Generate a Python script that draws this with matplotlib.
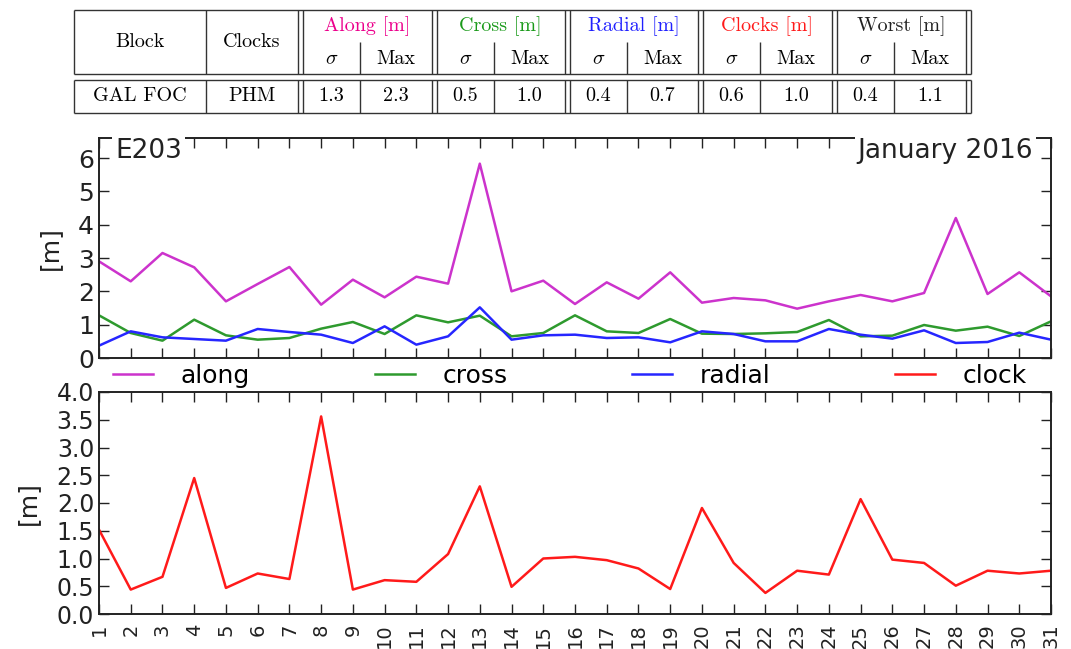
import matplotlib
matplotlib.use("Agg")
import matplotlib.pyplot as plt
import numpy as np

# ---- data ----------------------------------------------------------------
days = list(range(1, 32))

along = [2.90, 2.30, 3.15, 2.72, 1.70, 2.22, 2.73, 1.60, 2.35, 1.82,
         2.44, 2.23, 5.83, 2.00, 2.32, 1.62, 2.27, 1.78, 2.57, 1.66,
         1.80, 1.73, 1.48, 1.70, 1.89, 1.70, 1.95, 4.20, 1.92, 2.57, 1.85]
cross = [1.28, 0.75, 0.52, 1.15, 0.68, 0.55, 0.60, 0.88, 1.08, 0.72,
         1.28, 1.07, 1.27, 0.65, 0.75, 1.28, 0.80, 0.75, 1.17, 0.73,
         0.72, 0.74, 0.78, 1.14, 0.65, 0.67, 0.99, 0.82, 0.94, 0.66, 1.10]
radial = [0.37, 0.80, 0.62, 0.57, 0.52, 0.87, 0.78, 0.70, 0.45, 0.95,
          0.40, 0.65, 1.52, 0.55, 0.68, 0.70, 0.60, 0.62, 0.47, 0.80,
          0.72, 0.50, 0.50, 0.87, 0.70, 0.58, 0.83, 0.45, 0.48, 0.76, 0.55]
clock = [1.52, 0.44, 0.67, 2.45, 0.47, 0.73, 0.63, 3.56, 0.44, 0.61,
         0.58, 1.08, 2.30, 0.49, 1.00, 1.03, 0.97, 0.82, 0.45, 1.91,
         0.92, 0.38, 0.78, 0.71, 2.07, 0.98, 0.92, 0.51, 0.78, 0.73, 0.78]

satellite = "E203"
period = "January 2016"

table_groups = ["Along [m]", "Cross [m]", "Radial [m]", "Clocks [m]", "Worst [m]"]
table_group_colors = ["#ec008c", "#1a9a1a", "#2020ff", "#ff1a1a", "#222222"]
table_block = "GAL FOC"
table_clocks = "PHM"
table_sigma = ["1.3", "0.5", "0.4", "0.6", "0.4"]
table_max = ["2.3", "1.0", "0.7", "1.0", "1.1"]

series_colors = {"along": "#cc33cc", "cross": "#2e9a2e", "radial": "#2626ff", "clock": "#ff1a1a"}

# ---- figure --------------------------------------------------------------
W, H = 1071, 649
fig = plt.figure(figsize=(W / 100, H / 100), dpi=100)
plt.rcParams["mathtext.fontset"] = "cm"

# table drawn in pixel coordinates on an overlay axes
tab = fig.add_axes([0, 0, 1, 1])
tab.set_xlim(0, W)
tab.set_ylim(H, 0)
tab.axis("off")

lc = "#333333"
lw = 1.0
serif = "cmr10"
fs_tab = 14.5

x_left = 74
x_block = 206
group_edges = [298, 432, 565, 698, 832, 966]
gap = 4.5
sub_off = 62
y_top, y_hdr, y_dat, y_bot = 10, 74, 80, 113
y_sub = 42

def hline(y, x0, x1):
    tab.plot([x0, x1], [y, y], color=lc, lw=lw, solid_capstyle="butt")

def vline(x, y0, y1):
    tab.plot([x, x], [y0, y1], color=lc, lw=lw, solid_capstyle="butt")

x_right = group_edges[-1] + gap
for (y0, y1) in [(y_top, y_hdr), (y_dat, y_bot)]:
    hline(y0, x_left, x_right)
    hline(y1, x_left, x_right)
    vline(x_left, y0, y1)
    vline(x_block, y0, y1)
    for xe in group_edges:
        vline(xe, y0, y1)
        vline(xe + gap, y0, y1)

for i in range(len(table_groups)):
    vline(group_edges[i] + sub_off, y_sub, y_hdr)
    vline(group_edges[i] + sub_off, y_dat, y_bot)

tab.text((x_left + x_block) / 2, (y_top + y_hdr) / 2, "Block", family=serif,
         fontsize=fs_tab, ha="center", va="center")
tab.text((x_block + group_edges[0]) / 2, (y_top + y_hdr) / 2, "Clocks", family=serif,
         fontsize=fs_tab, ha="center", va="center")
tab.text((x_left + x_block) / 2, (y_dat + y_bot) / 2, table_block, family=serif,
         fontsize=fs_tab, ha="center", va="center")
tab.text((x_block + group_edges[0]) / 2, (y_dat + y_bot) / 2, table_clocks, family=serif,
         fontsize=fs_tab, ha="center", va="center")

for i, name in enumerate(table_groups):
    g0 = group_edges[i] + gap
    g1 = group_edges[i + 1]
    xs = group_edges[i] + sub_off
    tab.text((g0 + g1) / 2, 26, name, family=serif, fontsize=fs_tab,
             color=table_group_colors[i], ha="center", va="center")
    tab.text((g0 + xs) / 2, 59, r"$\sigma$", fontsize=fs_tab, ha="center", va="center")
    tab.text((xs + g1) / 2, 59, "Max", family=serif, fontsize=fs_tab, ha="center", va="center")
    tab.text((g0 + xs) / 2, (y_dat + y_bot) / 2, table_sigma[i], family=serif,
             fontsize=fs_tab, ha="center", va="center")
    tab.text((xs + g1) / 2, (y_dat + y_bot) / 2, table_max[i], family=serif,
             fontsize=fs_tab, ha="center", va="center")

# ---- plots ---------------------------------------------------------------
left = 99 / W
width = (1051 - 99) / W
ax1 = fig.add_axes([left, 1 - 358 / H, width, 220 / H])
ax2 = fig.add_axes([left, 1 - 614 / H, width, 222 / H])

def style(ax, fs):
    for s in ax.spines.values():
        s.set_linewidth(1.4)
        s.set_color("#222222")
    ax.tick_params(direction="in", length=7, width=1.0, top=True, right=True,
                   labelsize=fs, colors="#222222")
    ax.set_xlim(1, 31)
    ax.set_xticks(days)

lwl = 1.8
ax1.plot(days, along, color=series_colors["along"], lw=lwl, label="along")
ax1.plot(days, cross, color=series_colors["cross"], lw=lwl, label="cross")
ax1.plot(days, radial, color=series_colors["radial"], lw=lwl, label="radial")
style(ax1, 18)
ax1.set_ylim(0, 6.6)
ax1.set_yticks([0, 1, 2, 3, 4, 5, 6])
ax1.tick_params(axis="x", labelbottom=False)
ax1.set_ylabel("[m]", fontsize=18, color="#222222", labelpad=12)

ax2.plot(days, clock, color=series_colors["clock"], lw=lwl, label="clock")
style(ax2, 17)
ax2.set_ylim(0, 4.0)
ax2.set_yticks(np.arange(0, 4.01, 0.5))
ax2.set_yticklabels([f"{v:.1f}" for v in np.arange(0, 4.01, 0.5)])
ax2.tick_params(axis="x", labelsize=14, labelrotation=90, pad=7)
ax2.set_ylabel("[m]", fontsize=18, color="#222222", labelpad=12)

for t, x, ha in [(satellite, 0.017, "left"), (period, 0.981, "right")]:
    ax1.text(x, 1.0, t, transform=ax1.transAxes, ha=ha, va="top", fontsize=19,
             color="#222222", zorder=10, clip_on=False,
             bbox=dict(facecolor="white", edgecolor="none", pad=2))

handles = ax1.get_lines()[:] + ax2.get_lines()[:]
ax1.legend(handles=handles, labels=[h.get_label() for h in handles],
           loc="center left", bbox_to_anchor=(0.015, -0.08, 0.96, 0.0),
           mode="expand", ncol=4, frameon=False, fontsize=18,
           handlelength=1.6, handletextpad=1.1, borderpad=0, borderaxespad=0)

fig.savefig("out.png", dpi=100)
